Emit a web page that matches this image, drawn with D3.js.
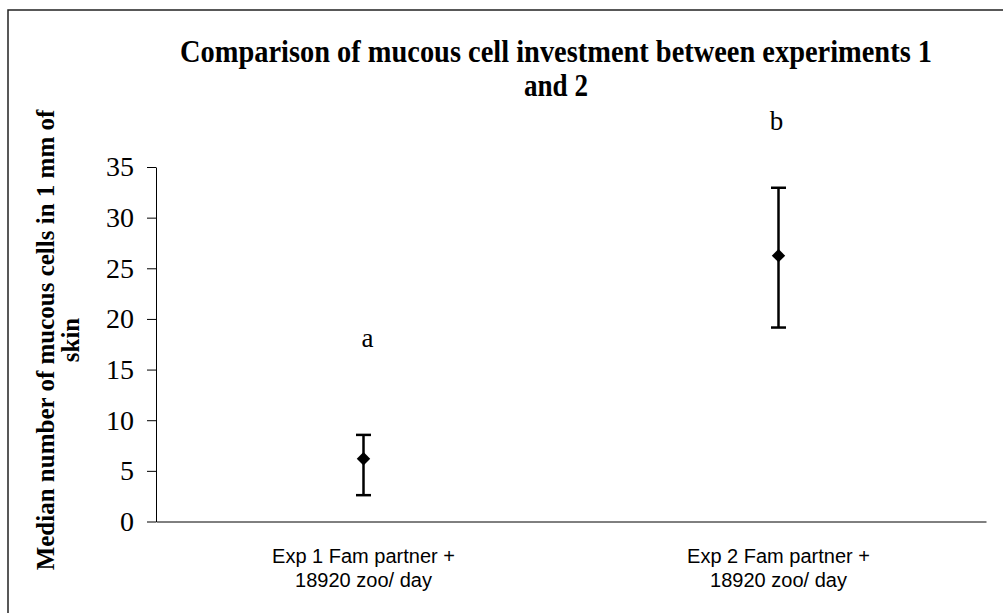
<!DOCTYPE html>
<html>
<head>
<meta charset="utf-8">
<script src="https://cdn.jsdelivr.net/npm/d3@7"></script>
<style>
  html, body { margin: 0; padding: 0; background: #fff; }
  svg { display: block; }
</style>
</head>
<body>
<svg id="chart"></svg>
<script>
// data
const groups = ["Exp 1 Fam partner +|18920 zoo/ day", "Exp 2 Fam partner +|18920 zoo/ day"];
const medians = [6.2, 26.25];
const upper = [8.55, 32.95];
const lower = [2.6, 19.15];
const sigLetters = ["a", "b"];
const sigLetterAt = [17.25, 38.7];
const yTicks = [0, 5, 10, 15, 20, 25, 30, 35];

const [w, h] = [1003, 613];
const svg = d3.select("#chart").attr("width", w).attr("height", h);

// outer chart border (right and bottom edges are cut off in the original)
svg.append("rect").attr("x", 8).attr("y", 10).attr("width", 1100).attr("height", 700)
  .attr("fill", "none").attr("stroke", "#222").attr("stroke-width", 1.5);

const plot = {left: 156, right: 986, top: 167, bottom: 521.5};

const xScale = d3.scaleBand().domain(groups).range([plot.left, plot.right]);
const yScale = d3.scaleLinear().domain([0, 35]).range([plot.bottom, plot.top]);

// y axis
const yAxis = d3.axisLeft(yScale).tickValues(yTicks).tickSize(9).tickSizeOuter(0).tickPadding(13);
const gy = svg.append("g").attr("transform", `translate(${plot.left},0)`).call(yAxis);
gy.selectAll("path, line").attr("stroke", "#000").attr("stroke-width", 1);
gy.selectAll("text").attr("font-family", "'Liberation Serif', 'Times New Roman', serif")
  .attr("font-size", 28).attr("fill", "#000");

// x axis
const xAxis = d3.axisBottom(xScale).tickSize(0).tickSizeOuter(0).tickFormat("");
const gx = svg.append("g").attr("transform", `translate(0,${plot.bottom})`).call(xAxis);
gx.select("path").attr("stroke", "#000").attr("stroke-width", 1);
gx.selectAll(".tick").each(function(d){
  const t = d3.select(this).append("text")
    .attr("fill", "#000").attr("text-anchor", "middle")
    .attr("font-family", "'Liberation Sans', Arial, sans-serif").attr("font-size", 20);
  d.split("|").forEach((line, i) => {
    t.append("tspan").attr("x", 0).attr("y", 41 + i * 24).text(line);
  });
});

// error bars and medians
const cx = (i) => xScale(groups[i]) + xScale.bandwidth() / 2;
const bars = svg.append("g").selectAll("g").data(medians).enter().append("g");
bars.append("line").attr("x1", (d, i) => cx(i)).attr("x2", (d, i) => cx(i))
  .attr("y1", (d, i) => yScale(upper[i])).attr("y2", (d, i) => yScale(lower[i]))
  .attr("stroke", "#000").attr("stroke-width", 2.5);
[upper, lower].forEach(arr => {
  bars.append("line").attr("x1", (d, i) => cx(i) - 7.5).attr("x2", (d, i) => cx(i) + 7.5)
    .attr("y1", (d, i) => yScale(arr[i])).attr("y2", (d, i) => yScale(arr[i]))
    .attr("stroke", "#000").attr("stroke-width", 2.5);
});
bars.append("path")
  .attr("d", d3.symbol().type(d3.symbolDiamond2).size(115))
  .attr("transform", (d, i) => `translate(${cx(i)},${yScale(d)})`)
  .attr("fill", "#000");

// significance letters
svg.append("g").selectAll("text").data(sigLetters).enter().append("text")
  .attr("x", (d, i) => cx(i) + 4 * (i === 0 ? 1 : -0.5))
  .attr("y", (d, i) => yScale(sigLetterAt[i]))
  .attr("text-anchor", "middle")
  .attr("font-family", "'Liberation Serif', 'Times New Roman', serif")
  .attr("font-size", 27).attr("fill", "#000")
  .text(d => d);

// title
const title = svg.append("text").attr("text-anchor", "middle")
  .attr("font-family", "'Liberation Serif', 'Times New Roman', serif")
  .attr("font-weight", "bold").attr("font-size", 31).attr("fill", "#000");
title.append("tspan").attr("x", 556).attr("y", 62)
  .attr("textLength", 752).attr("lengthAdjust", "spacingAndGlyphs")
  .text("Comparison of mucous cell investment between experiments 1");
title.append("tspan").attr("x", 556).attr("y", 96)
  .attr("textLength", 64).attr("lengthAdjust", "spacingAndGlyphs")
  .text("and 2");

// y axis title
const yt = svg.append("text").attr("text-anchor", "middle")
  .attr("transform", "rotate(-90)")
  .attr("font-family", "'Liberation Serif', 'Times New Roman', serif")
  .attr("font-weight", "bold").attr("font-size", 25).attr("fill", "#000");
yt.append("tspan").attr("x", -340).attr("y", 54).text("Median number of mucous cells in 1 mm of");
yt.append("tspan").attr("x", -340).attr("y", 79).text("skin");
</script>
</body>
</html>
